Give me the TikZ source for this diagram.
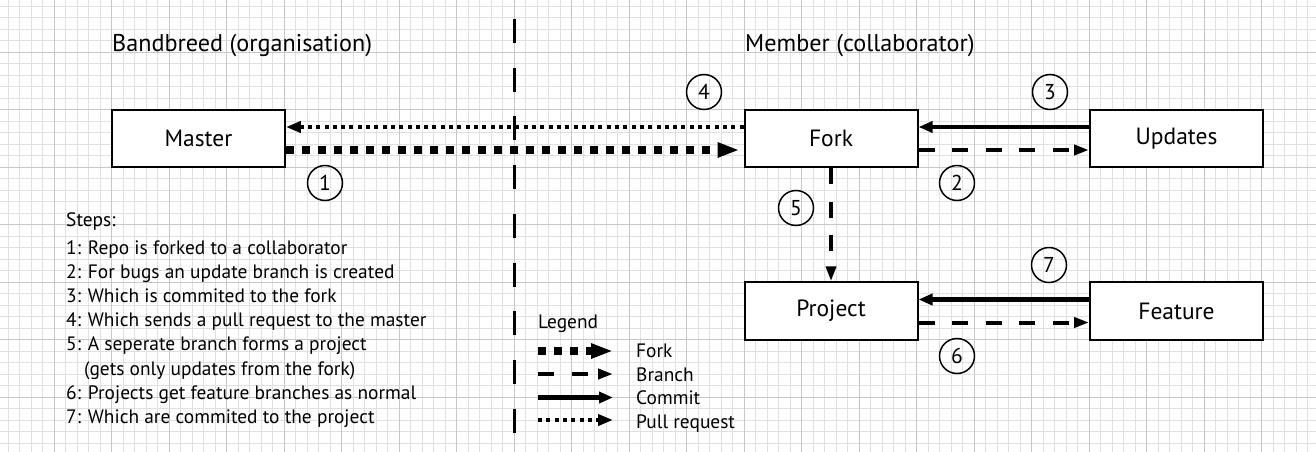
\documentclass[tikz,border=0pt]{standalone}
\usepackage{fontspec}
\setmainfont{PT Sans}
\usetikzlibrary{arrows.meta}
\tikzset{
  gridminor/.style={draw=black!12, line width=1pt},
  gridmajor/.style={draw=black!22, line width=1pt},
  box/.style={draw, line width=2pt, fill=white, minimum width=173pt, minimum height=57.5pt, inner sep=0pt, font=\fontsize{23.5}{27}\selectfont},
  num/.style={draw, circle, line width=1.5pt, minimum size=35pt, inner sep=0pt, font=\fontsize{21.5}{24}\selectfont},
  head/.style={anchor=base west, inner sep=0pt, font=\fontsize{24.2}{28}\selectfont},
  txt/.style={anchor=base west, inner sep=0pt, font=\fontsize{19.4}{23}\selectfont},
  forkline/.style={line width=8pt, dash pattern=on 8pt off 8pt, -{Triangle[length=22pt,width=14pt]}},
  branchline/.style={line width=4pt, dash pattern=on 16pt off 17.5pt, -{Triangle[length=15pt,width=10pt]}},
  commitline/.style={line width=4.5pt, -{Triangle[length=14pt,width=11pt]}},
  pullline/.style={line width=4pt, dash pattern=on 4pt off 4.3pt, -{Triangle[length=15pt,width=11pt]}},
  divider/.style={line width=3pt, dash pattern=on 24pt off 24.7pt}
}
\begin{document}
\begin{tikzpicture}[x=1pt,y=-1pt]
\useasboundingbox (0,0) rectangle (1316,452);
\fill[white] (0,0) rectangle (1316,452);
% grid
\foreach \k in {-10,...,105} \draw[gridminor] ({111.7+11.5*\k},0) -- ++(0,452);
\foreach \k in {-10,...,30} \draw[gridminor] (0,{109.8+11.5*\k}) -- ++(1316,0);
\foreach \k in {-2,...,21} \draw[gridmajor] ({111.7+57.5*\k},0) -- ++(0,452);
\foreach \k in {-2,...,6} \draw[gridmajor] (0,{109.8+57.5*\k}) -- ++(1316,0);

% divider
\coordinate (d1) at (514,19);
\coordinate (d2) at (514,436);
\draw[divider] (d1) -- (d2);

% headings
\node[head] (h1) at (112,51.7) {Bandbreed (organisation)};
\node[head] (h2) at (745,51.7) {Member (collaborator)};

% boxes
\node[box] (master) at (198.4,138.5) {Master};
\node[box] (fork) at (831,138.5) {Fork};
\node[box] (updates) at (1176.5,138.5) {Updates};
\node[box] (project) at (831,311) {Project};
\node[box] (feature) at (1176.5,311) {Feature};

% connectors
\draw[pullline] ([yshift=11.5pt]fork.west) -- ([yshift=11.5pt]master.east);
\draw[forkline, shorten >=4pt] ([yshift=-11.5pt]master.east) -- ([yshift=-11.5pt]fork.west);
\draw[commitline] ([yshift=11.5pt]updates.west) -- ([yshift=11.5pt]fork.east);
\draw[branchline] ([yshift=-11.5pt]fork.east) -- ([yshift=-11.5pt]updates.west);
\draw[branchline] (fork.south) -- (project.north);
\draw[commitline] ([yshift=11.5pt]feature.west) -- ([yshift=11.5pt]project.east);
\draw[branchline] ([yshift=-11.5pt]project.east) -- ([yshift=-11.5pt]feature.west);

% step numbers
\node[num] (n1) at (325,183) {1};
\node[num] (n2) at (957,183) {2};
\node[num] (n3) at (1050,92) {3};
\node[num] (n4) at (704,92) {4};
\node[num] (n5) at (796,208) {5};
\node[num] (n6) at (957,356) {6};
\node[num] (n7) at (1049,265) {7};

% steps text
\node[txt] (s0) at (66,226) {Steps:};
\node[txt] (s1) at (66,254.3) {1: Repo is forked to a collaborator};
\node[txt] (s2) at (66,278.4) {2: For bugs an update branch is created};
\node[txt] (s3) at (66,302.6) {3: Which is commited to the fork};
\node[txt] (s4) at (66,326.7) {4: Which sends a pull request to the master};
\node[txt] (s5) at (66,350.9) {5: A seperate branch forms a project};
\node[txt] (s5b) at (84,375) {(gets only updates from the fork)};
\node[txt] (s6) at (66,399.2) {6: Projects get feature branches as normal};
\node[txt] (s7) at (66,423.3) {7: Which are commited to the project};

% legend
\node[txt] (lg) at (538,328) {Legend};
\coordinate (la1) at (538,351); \coordinate (la2) at (613,351);
\coordinate (lb1) at (538,374); \coordinate (lb2) at (613,374);
\coordinate (lc1) at (538,397.5); \coordinate (lc2) at (613,397.5);
\coordinate (ld1) at (538,420); \coordinate (ld2) at (613,420);
\draw[forkline] (la1) -- (la2);
\draw[branchline] (lb1) -- (lb2);
\draw[commitline] (lc1) -- (lc2);
\draw[pullline] (ld1) -- (ld2);
\node[txt] (lt1) at (636,357) {Fork};
\node[txt] (lt2) at (636,381) {Branch};
\node[txt] (lt3) at (636,404) {Commit};
\node[txt] (lt4) at (636,428) {Pull request};
\end{tikzpicture}
\end{document}
